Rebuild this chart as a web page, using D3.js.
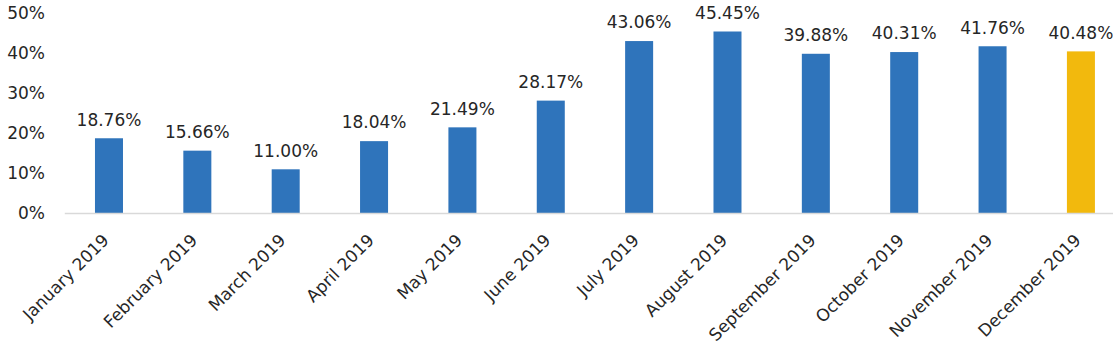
<!DOCTYPE html>
<html>
<head>
<meta charset="utf-8">
<script src="https://cdn.jsdelivr.net/npm/d3@7"></script>
<style>
  html, body { margin: 0; padding: 0; background: #fff; }
  svg { display: block; }
  text { font-family: "DejaVu Sans", sans-serif; fill: #262626; }
</style>
</head>
<body>
<svg id="chart" width="1113" height="348"></svg>
<script>
// Monthly share, 2019
const months = ["January 2019", "February 2019", "March 2019", "April 2019", "May 2019", "June 2019",
                "July 2019", "August 2019", "September 2019", "October 2019", "November 2019", "December 2019"];
const shares = [18.76, 15.66, 11.00, 18.04, 21.49, 28.17, 43.06, 45.45, 39.88, 40.31, 41.76, 40.48];
const yTicks = [0, 10, 20, 30, 40, 50];
const highlightMonth = "December 2019";

const svg = d3.select("#chart");
const baseY = 213.3;
const topY = 13.3;

const x = d3.scaleBand()
  .domain(months)
  .range([64.8, 1125.1])
  .paddingInner(0.683)
  .paddingOuter(0.3415);

const y = d3.scaleLinear().domain([0, 50]).range([baseY, topY]);

// y axis labels (no axis line)
const yAxis = d3.axisLeft(y).tickValues(yTicks).tickFormat(d => d + "%").tickSize(0).tickPadding(0);
const yg = svg.append("g").attr("transform", "translate(45,0)").call(yAxis);
yg.select(".domain").remove();
yg.selectAll("text").attr("font-size", 17).style("font-family", '"DejaVu Sans", sans-serif').attr("fill", "#262626");

// bars
svg.append("g").selectAll("rect")
  .data(months)
  .join("rect")
  .attr("x", d => x(d))
  .attr("width", x.bandwidth())
  .attr("y", (d, i) => y(shares[i]))
  .attr("height", (d, i) => baseY - y(shares[i]))
  .attr("fill", d => d === highlightMonth ? "#F2B90D" : "#2F74BB");

// baseline
svg.append("line")
  .attr("x1", 64.8).attr("x2", 1125)
  .attr("y1", baseY + 0.2).attr("y2", baseY + 0.2)
  .attr("stroke", "#d9d9d9").attr("stroke-width", 1.3);

// value labels
svg.append("g").selectAll("text")
  .data(months)
  .join("text")
  .attr("x", d => x(d) + x.bandwidth() / 2)
  .attr("y", (d, i) => y(shares[i]) - 12.7)
  .attr("text-anchor", "middle")
  .attr("font-size", 17)
  .text((d, i) => shares[i].toFixed(2) + "%");

// rotated month labels
const xAxis = d3.axisBottom(x).tickSize(0).tickPadding(0);
const xg = svg.append("g").attr("transform", `translate(0,${baseY})`).call(xAxis);
xg.select(".domain").remove();
xg.selectAll("text")
  .attr("font-size", 17)
  .style("font-family", '"DejaVu Sans", sans-serif')
  .attr("fill", "#262626")
  .attr("text-anchor", "end")
  .attr("dy", 0)
  .attr("y", 0)
  .attr("transform", "translate(1,28) rotate(-45)");
</script>
</body>
</html>
